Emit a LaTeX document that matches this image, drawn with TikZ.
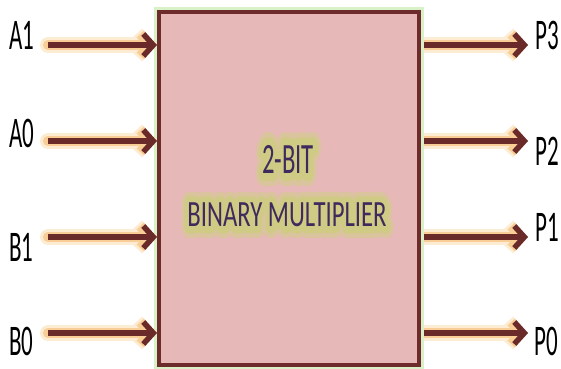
\documentclass[tikz,border=0pt]{standalone}
\usepackage{fontspec}
\setmainfont{Carlito}
\newfontfamily\glowfontA{Carlito}[FakeBold=60]
\newfontfamily\glowfontB{Carlito}[FakeBold=36]
\usetikzlibrary{arrows.meta}
\pgfdeclarelayer{bg}
\pgfsetlayers{bg,main}
\definecolor{boxfill}{RGB}{230,184,183}
\definecolor{boxline}{RGB}{110,43,43}
\definecolor{arrcol}{RGB}{107,42,42}
\definecolor{glowA}{RGB}{253,236,212}
\definecolor{glowB}{RGB}{249,206,150}
\definecolor{boxglow}{RGB}{216,241,198}
\definecolor{txtcol}{RGB}{62,42,92}
\definecolor{tglowA}{RGB}{218,196,158}
\definecolor{tglowB}{RGB}{207,203,132}
\newcommand\glowtxt[1]{\special{pdf:code 1 j 1 J}\makebox[0pt]{{\glowfontA\color{tglowA}#1}}\makebox[0pt]{{\glowfontB\color{tglowB}#1}}\makebox[0pt]{#1}}
\begin{document}
\begin{tikzpicture}[x=1pt,y=-1pt,
  lbl/.style={font=\fontsize{23}{23}\selectfont, inner sep=0pt, text=black},
  midtxt/.style={font=\fontsize{24.7}{25}\selectfont, inner sep=0pt, text=txtcol},
  tip/.style={-{Straight Barb[length=10pt,width=22pt]}},
  sig/.style={line width=5.5pt, draw=arrcol, tip,
    preaction={draw=glowA, line width=16pt, line cap=round, tip},
    preaction={draw=glowB, line width=10pt, line cap=round, tip}},
  blockbox/.style={draw=boxline, fill=boxfill, line width=4pt,
    minimum width=260pt, minimum height=353pt, inner sep=0pt,
    preaction={draw=boxglow, line width=10pt}}]
\useasboundingbox (0,0) rectangle (561,368);
\node[blockbox] (box) at (289,188.5) {};
\node[midtxt] (t1) at (288,159) {\scalebox{1}[1.75]{\glowtxt{2-BIT}}};
\node[midtxt] (t2) at (287,215) {\scalebox{1}[1.5]{\glowtxt{BINARY MULTIPLIER}}};
% input labels
\node[lbl] (a1) at (21.5,35) {\scalebox{1}[1.9]{A1}};
\node[lbl] (a0) at (21.5,133) {\scalebox{1}[1.9]{A0}};
\node[lbl] (b1) at (21.5,247) {\scalebox{1}[1.9]{B1}};
\node[lbl] (b0) at (21.5,341) {\scalebox{1}[1.9]{B0}};
% output labels
\node[lbl] (p3) at (547,35) {\scalebox{1}[1.9]{P3}};
\node[lbl] (p2) at (547,151) {\scalebox{1}[1.9]{P2}};
\node[lbl] (p1) at (547,227) {\scalebox{1}[1.9]{P1}};
\node[lbl] (p0) at (546,341) {\scalebox{1}[1.9]{P0}};
% arrow endpoints
\coordinate (ia1) at (48,45);
\coordinate (ia0) at (48,141);
\coordinate (ib1) at (48,237);
\coordinate (ib0) at (48,333);
\coordinate (op3) at (528,45);
\coordinate (op2) at (528,141);
\coordinate (op1) at (528,237);
\coordinate (op0) at (528,333);
\foreach \c in {a1,a0,b1,b0}{
  \draw[sig] (i\c) -- (box.west |- i\c);
}
\begin{pgfonlayer}{bg}
\foreach \c in {p3,p2,p1,p0}{
  \draw[sig] (box.east |- o\c) -- (o\c);
}
\end{pgfonlayer}
\end{tikzpicture}
\end{document}
